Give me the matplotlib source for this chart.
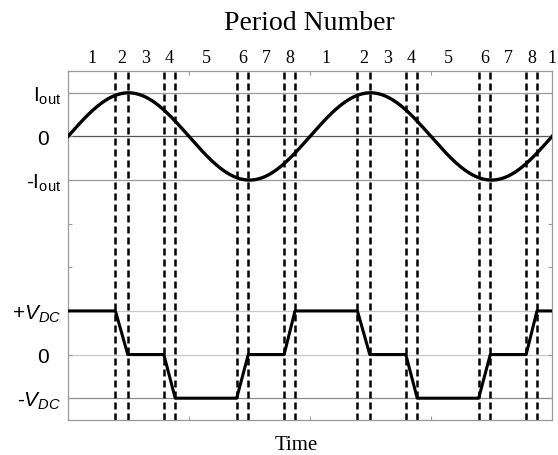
import numpy as np
import matplotlib.pyplot as plt

# switching instants (in periods) for two fundamental periods
switch_times = [0.196, 0.247, 0.396, 0.443, 0.697, 0.745, 0.893, 0.938,
                1.196, 1.247, 1.396, 1.443, 1.697, 1.745, 1.893, 1.938]
period_labels = ['1', '2', '3', '4', '5', '6', '7', '8',
                 '1', '2', '3', '4', '5', '6', '7', '8', '1']

# output voltage breakpoints (time, level) -> +1, 0, -1
v_time = [0.0, 0.196, 0.247, 0.396, 0.443, 0.697, 0.745, 0.893, 0.938,
          1.196, 1.247, 1.396, 1.443, 1.697, 1.745, 1.893, 1.938, 2.0]
v_level = [1, 1, 0, 0, -1, -1, 0, 0, 1,
           1, 0, 0, -1, -1, 0, 0, 1, 1]

i_amp = 1.0
i_offset = 6      # vertical position of current trace zero
v_offset = 1      # vertical position of voltage trace zero

ytick_pos = [0, 1, 2, 5, 6, 7]
ytick_text = [r'-$V_{DC}$', '0  ', r'+$V_{DC}$', r'-I$_{\mathrm{out}}$', '0  ', r'I$_{\mathrm{out}}$']

plt.rcParams['mathtext.fontset'] = 'custom'
plt.rcParams['mathtext.rm'] = 'Liberation Sans'
plt.rcParams['mathtext.it'] = 'Liberation Sans:italic'

fig = plt.figure(figsize=(5.58, 4.56), dpi=100)
ax = fig.add_axes([68 / 558, 35 / 456, 484 / 558, 349 / 456])

# reference levels
grid_col = {0: '#8c8c8c', 1: '#c8c8c8', 2: '#c8c8c8', 5: '#9a9a9a', 6: '#555555', 7: '#9a9a9a'}
for lvl, c in grid_col.items():
    ax.axhline(lvl, color=c, lw=0.9, zorder=1)

# current waveform
t = np.linspace(0, 2, 600)
ax.plot(t, i_offset + i_amp * np.sin(2 * np.pi * t), color='black', lw=2.4, zorder=3)

# voltage waveform
ax.plot(v_time, np.array(v_level) + v_offset, color='black', lw=2.2, zorder=3)

# switching instants
for ts in switch_times:
    ax.axvline(ts, color='black', lw=1.8, ls=(0, (2.8, 1.6)), zorder=2)

ax.set_xlim(0, 2)
ax.set_ylim(-0.5, 7.5)
ax.set_xticks([0.5, 1.0, 1.5])
ax.set_xticklabels([])
ax.tick_params(axis='x', direction='in', length=3, color='#999999', top=True)
ax.set_yticks([3, 4] + ytick_pos)
ax.set_yticklabels(['', ''] + ytick_text, fontsize=15, family='Liberation Sans')
ax.tick_params(axis='y', direction='in', length=3, color='#999999', right=True, pad=5)
for s in ax.spines.values():
    s.set_color('#999999')
    s.set_linewidth(0.9)

# period numbers above the plot
edges = [0.0] + switch_times + [2.0]
mids = [(a + b) / 2 for a, b in zip(edges[:-1], edges[1:])]
mids[-1] = 2.0
for m, lab in zip(mids, period_labels):
    ax.text(m, 1.04, lab, transform=ax.get_xaxis_transform(), ha='center', va='center',
            fontsize=13, family='Liberation Serif')

fig.text(309 / 558, 1 - 24 / 456, 'Period Number', ha='center', va='center',
         fontsize=20, family='Liberation Serif')
fig.text(296 / 558, 1 - 446 / 456, 'Time', ha='center', va='center',
         fontsize=15, family='Liberation Serif')

fig.savefig('out.png', dpi=100)
